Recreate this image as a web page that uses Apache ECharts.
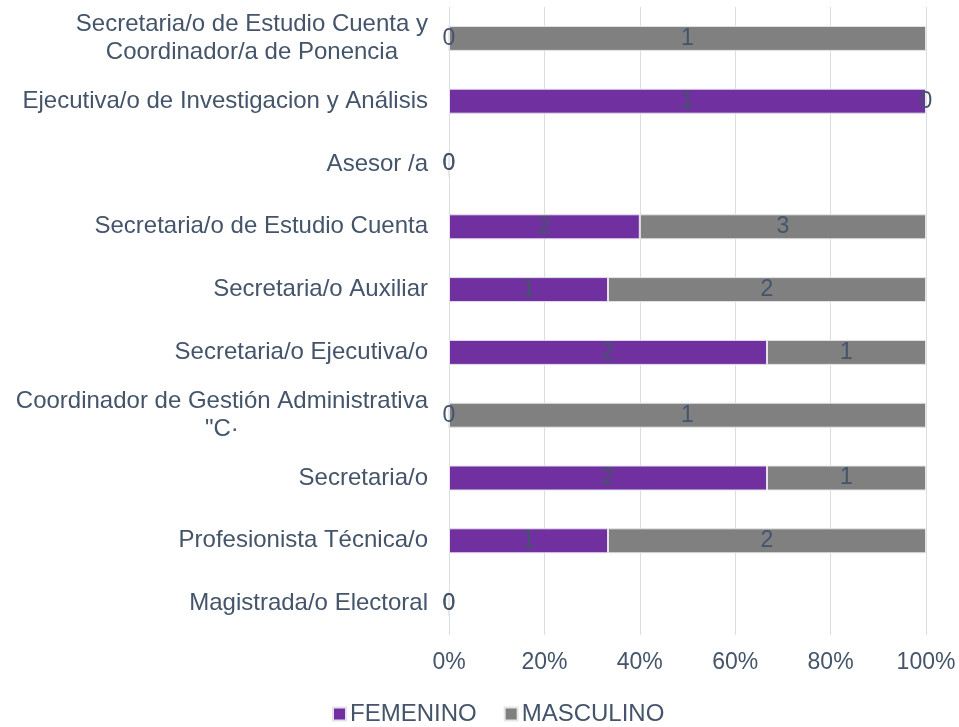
<!DOCTYPE html>
<html>
<head>
<meta charset="utf-8">
<script src="https://cdn.jsdelivr.net/npm/echarts@6/dist/echarts.min.js"></script>
<style>
  html, body { margin: 0; padding: 0; background: #fff; }
  #chart { width: 959px; height: 727px; }
</style>
</head>
<body>
<div id="chart"></div>
<script>
// categorías de abajo hacia arriba
const categories = [
  'Magistrada/o Electoral',
  'Profesionista Técnica/o',
  'Secretaria/o',
  'Coordinador de Gestión Administrativa\n"C·',
  'Secretaria/o Ejecutiva/o',
  'Secretaria/o Auxiliar',
  'Secretaria/o de Estudio Cuenta',
  'Asesor /a',
  'Ejecutiva/o de Investigacion y Análisis',
  'Secretaria/o de Estudio Cuenta y\nCoordinador/a de Ponencia'
];
const femenino = [0, 1, 2, 0, 2, 1, 2, 0, 1, 0];
const masculino = [0, 2, 1, 1, 1, 2, 3, 0, 0, 1];
const xTicks = ['0%', '20%', '40%', '60%', '80%', '100%'];

const textColor = '#44546A';
const fontSz = 24;
const totals = femenino.map((v, i) => v + masculino[i]);
const pct = arr => arr.map((v, i) => totals[i] ? v / totals[i] * 100 : 0);

const chart = echarts.init(document.getElementById('chart'));

const labelOpt = (raw) => ({
  show: true,
  position: 'inside',
  color: textColor,
  fontFamily: 'Liberation Sans',
  fontSize: 23,
  formatter: p => String(raw[p.dataIndex])
});

chart.setOption({
  animation: false,
  textStyle: { fontFamily: 'Liberation Sans' },
  grid: { left: 449, right: 33, top: 7, height: 628 },
  xAxis: {
    type: 'value',
    min: 0,
    max: 100,
    interval: 20,
    axisLine: { show: false },
    axisTick: { show: false },
    splitLine: { lineStyle: { color: '#D9DDE5', width: 1 } },
    axisLabel: {
      color: textColor,
      fontSize: 23,
      margin: 16,
      formatter: v => xTicks[v / 20]
    }
  },
  yAxis: {
    type: 'category',
    data: categories,
    axisLine: { show: false },
    axisTick: { show: false },
    axisLabel: {
      color: textColor,
      fontSize: fontSz,
      margin: 21,
      lineHeight: 28,
      formatter: v => v.split('\n').map(s => '{c|' + s + '}').join('\n'),
      rich: { c: { align: 'center', fontSize: fontSz, color: textColor, lineHeight: 28 } }
    }
  },
  legend: {
    top: 697,
    left: 327,
    icon: 'rect',
    itemWidth: 13,
    itemHeight: 13,
    itemGap: 27,
    textStyle: { color: textColor, fontSize: fontSz, padding: [0, 0, 0, -1] },
    data: ['FEMENINO', 'MASCULINO']
  },
  series: [
    {
      name: 'FEMENINO',
      type: 'bar',
      stack: 'total',
      barWidth: 25,
      data: pct(femenino),
      itemStyle: { color: '#7030A0', borderColor: '#E6E0EE', borderWidth: 1 },
      label: labelOpt(femenino)
    },
    {
      name: 'MASCULINO',
      type: 'bar',
      stack: 'total',
      barWidth: 25,
      data: pct(masculino),
      itemStyle: { color: '#808080', borderColor: '#E6E6E6', borderWidth: 1 },
      label: labelOpt(masculino)
    }
  ]
});
</script>
</body>
</html>
